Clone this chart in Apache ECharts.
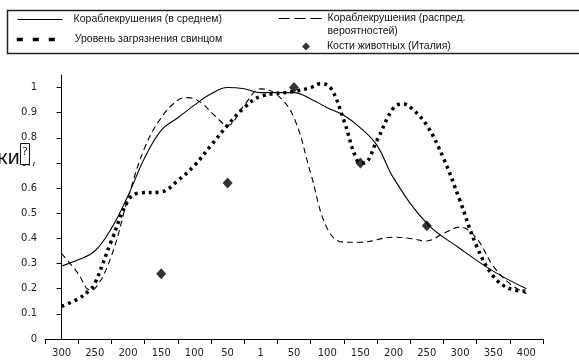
<!DOCTYPE html>
<html>
<head>
<meta charset="utf-8">
<script src="https://cdn.jsdelivr.net/npm/echarts@6/dist/echarts.min.js"></script>
<style>html,body{margin:0;padding:0;background:#fff}#c{width:579px;height:362px}</style>
</head>
<body>
<div id="c"></div>
<script>
// ---- data ----
const categories = ['300','250','200','150','100','50','1','50','100','150','200','250','300','350','400'];
const yTickValues = [0,0.1,0.2,0.3,0.4,0.5,0.6,0.7,0.8,0.9,1];
const yTickLabels = ['0','0.1','0.2','0.3','0.4','0.5','0.6','0.7','0.8','0.9','1'];

const seriesNames = ['Кораблекрушения (в среднем)', 'Кораблекрушения (распред. вероятностей)', 'Уровень загрязнения свинцом', 'Кости животных (Италия)'];

// positions are category indices (0 = first category), fractional values lie between categories
const wreckAvgPos = [0,0.5,1,1.5,2,2.5,3,3.5,4,4.5,5,5.5,6,7,7.5,8,8.5,9,9.5,10,11,12,13,14];
const wreckAvgVal = [0.29,0.315,0.35,0.44,0.57,0.72,0.83,0.88,0.93,0.975,1.0,0.995,0.98,0.98,0.955,0.92,0.89,0.84,0.77,0.64,0.46,0.36,0.27,0.20];

const wreckProbPos = [0,0.5,0.85,1,1.5,2,2.5,3,3.5,3.8,4.2,4.6,5,5.5,6,6.5,7,7.5,8,8.5,9,10,10.5,11,11.5,12,12.5,13,13.5,14];
const wreckProbVal = [0.34,0.26,0.195,0.20,0.33,0.56,0.76,0.88,0.95,0.96,0.94,0.89,0.85,0.93,0.995,0.97,0.88,0.66,0.44,0.385,0.385,0.405,0.40,0.39,0.42,0.445,0.40,0.29,0.22,0.18];

const leadPos = [0,0.5,0.85,1,1.5,2,2.3,3,3.5,4,4.5,5,5.5,6,7,7.5,7.8,8.1,8.5,8.9,9.1,9.5,10,10.3,10.6,11,11.5,12,12.5,13,13.5,14];
const leadVal = [0.13,0.16,0.195,0.22,0.39,0.55,0.58,0.585,0.63,0.69,0.77,0.85,0.92,0.965,0.985,1.0,1.015,1.0,0.87,0.71,0.70,0.79,0.92,0.935,0.91,0.85,0.72,0.55,0.37,0.25,0.20,0.19];

const bonesPos = [3,5,7,9,11];
const bonesVal = [0.26,0.62,1.0,0.70,0.45];

// ---- build ----
const zip = (xs, ys) => xs.map((x, i) => [x, ys[i]]);
const chart = echarts.init(document.getElementById('c'), null, {renderer: 'canvas'});
const axisFont = {fontFamily: 'DejaVu Sans', fontSize: 10, color: '#222'};
const richA = pad => ({fontFamily: 'Liberation Sans', fontSize: 10.5, color: '#111', padding: [0,0,0,pad], lineHeight: 13});
const legendText = pad => ({fontFamily: 'Liberation Sans', fontSize: 10.5, color: '#111', rich: {a: richA(pad)}});

chart.setOption({
  animation: false,
  backgroundColor: '#fff',
  grid: {left: 45, right: 36, top: 75, bottom: 23, containLabel: false},
  xAxis: [
    {type: 'category', data: categories, boundaryGap: true,
     axisLine: {lineStyle: {color: '#000', width: 1}},
     axisTick: {show: true, length: 5, lineStyle: {color: '#000'}},
     axisLabel: Object.assign({margin: 9, interval: 0}, axisFont),
     splitLine: {show: false}},
    {type: 'value', min: -0.5, max: 14.5, show: false}
  ],
  yAxis: {type: 'value', min: 0, max: 1.05,
    axisLine: {show: true, lineStyle: {color: '#000', width: 1}},
    axisTick: {show: true, length: 5, lineStyle: {color: '#000'}, customValues: yTickValues},
    axisLabel: Object.assign({margin: 8, customValues: yTickValues,
      formatter: v => yTickLabels[yTickValues.findIndex(t => Math.abs(t - v) < 1e-6)] ?? ''}, axisFont),
    splitLine: {show: false}},
  legend: [
    {data: [seriesNames[0]], left: 17, top: 14, padding: 0, itemWidth: 45, itemHeight: 10, itemStyle: {opacity: 0},
     lineStyle: {width: 1.2, type: 'solid'},
     formatter: n => '{a|' + n + '}', textStyle: legendText(6)},
    {data: [seriesNames[2]], left: 15, top: 34, padding: 0, itemWidth: 38, itemHeight: 10, itemStyle: {opacity: 0},
     lineStyle: {width: 3.5, type: [6, 10]},
     formatter: n => '{a|' + n + '}', textStyle: legendText(15)},
    {data: [seriesNames[1]], left: 278, top: 0, padding: 0, itemWidth: 44, itemHeight: 10, itemStyle: {opacity: 0},
     lineStyle: {width: 1.2, type: [11, 5]},
     formatter: () => '{a|}\n{a|Кораблекрушения (распред.}\n{a|вероятностей)}', textStyle: legendText(0)},
    {data: [seriesNames[3]], left: 302, top: 41, padding: 0, itemWidth: 8, itemHeight: 8,
     formatter: n => '{a|' + n + '}', textStyle: legendText(12)}
  ],
  series: [
    {name: seriesNames[0], type: 'line', xAxisIndex: 1, data: zip(wreckAvgPos, wreckAvgVal),
     smooth: 0.4, showSymbol: false, symbol: 'none', lineStyle: {color: '#000', width: 1.1}, itemStyle: {color: '#000'}, z: 3},
    {name: seriesNames[1], type: 'line', xAxisIndex: 1, data: zip(wreckProbPos, wreckProbVal),
     smooth: 0.4, showSymbol: false, symbol: 'none', lineStyle: {color: '#000', width: 1.1, type: [6, 4]}, itemStyle: {color: '#000'}, z: 3},
    {name: seriesNames[2], type: 'line', xAxisIndex: 1, data: zip(leadPos, leadVal),
     smooth: 0.4, showSymbol: false, symbol: 'none', lineStyle: {color: '#000', width: 3.5, type: [3, 4]}, itemStyle: {color: '#000'}, z: 4},
    {name: seriesNames[3], type: 'scatter', xAxisIndex: 1, data: zip(bonesPos, bonesVal),
     symbol: 'diamond', symbolSize: [10, 11], itemStyle: {color: '#000'}, z: 5}
  ],
  graphic: [
    {type: 'rect', shape: {x: 7.5, y: 10.5, width: 580, height: 43}, style: {fill: 'none', stroke: '#222', lineWidth: 1.5}, z: 10},
    {type: 'rect', shape: {x: 0, y: 146, width: 38, height: 16}, style: {fill: '#fff'}, z: 19},
    {type: 'text', style: {text: 'ки', x: 20, y: 158, font: '20px "Noto Sans"', fill: '#111', align: 'right', verticalAlign: 'middle'}, z: 20},
    {type: 'rect', shape: {x: 20.5, y: 143.5, width: 9, height: 21}, style: {fill: '#fff', stroke: '#111', lineWidth: 1}, z: 20},
    {type: 'text', style: {text: '?', x: 25, y: 152, font: '11px "Noto Sans"', fill: '#111', align: 'center', verticalAlign: 'middle'}, z: 21}
  ]
});
</script>
</body>
</html>
